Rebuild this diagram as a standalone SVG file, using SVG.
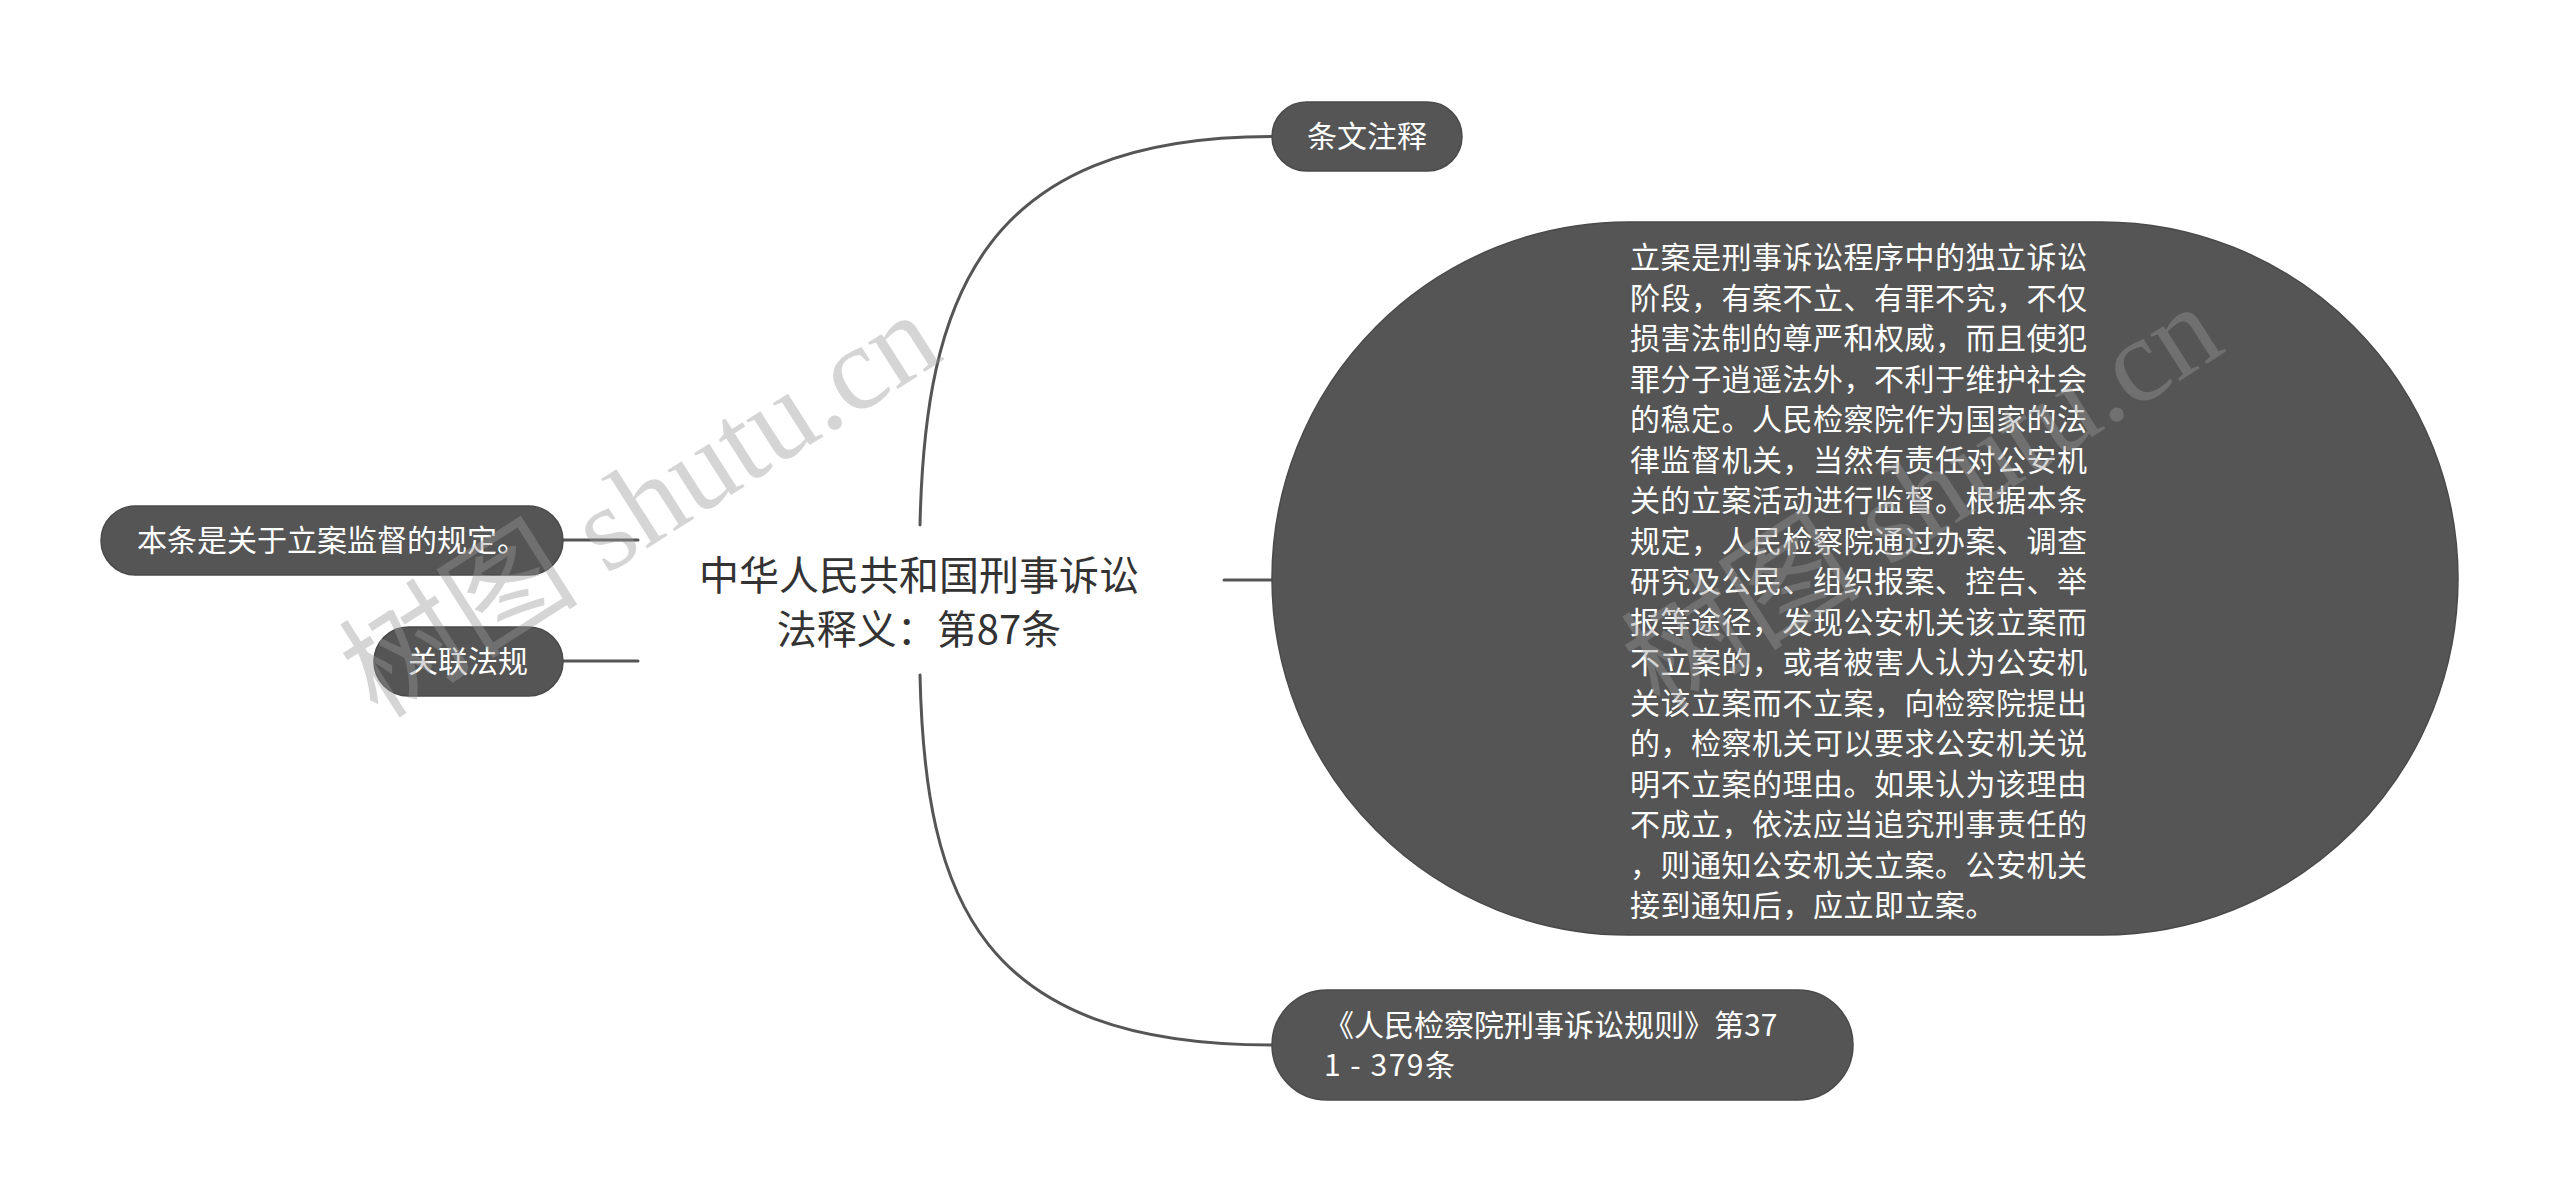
<svg xmlns="http://www.w3.org/2000/svg" width="2560" height="1201" viewBox="0 0 2560 1201">
<style>
.node{fill:#555555;stroke:#4a4a4a;stroke-width:1.5}
.nt{fill:#ffffff;font-family:"Microsoft YaHei","Noto Sans CJK SC","Noto Sans",sans-serif;font-size:30px}
.big{fill:#ffffff;font-family:"Microsoft YaHei","Noto Sans CJK SC","Noto Sans",sans-serif;font-size:30px;letter-spacing:0.5px}
.ct{fill:#333333;font-family:"Microsoft YaHei","Noto Sans CJK SC","Noto Sans",sans-serif;font-size:40px}
.edge{fill:none;stroke:#555555;stroke-width:3;stroke-linecap:round}
.wm{fill:#999999;opacity:0.4;font-family:"Liberation Serif","Noto Sans CJK SC",serif;font-size:120px}
</style>
<rect width="2560" height="1201" fill="#ffffff"/>
<g id="connectors">
<path class="edge" d="M920,525 C925,300 980,136.5 1272,136.5"/>
<path class="edge" d="M920,675 C925,900 980,1045 1272,1045"/>
<path class="edge" d="M1224,580 L1272,580"/>
<path class="edge" d="M563,540 L638,540"/>
<path class="edge" d="M563,661 L638,661"/>
</g>
<g id="center">
<text class="ct" x="919" y="590" text-anchor="middle">中华人民共和国刑事诉讼</text>
<text class="ct" x="919" y="644" text-anchor="middle">法释义：第87条</text>
</g>
<g id="n-tiaowen">
<rect class="node" x="1272" y="102" width="190" height="69" rx="34.5"/>
<text class="nt" x="1307" y="147">条文注释</text>
</g>
<g id="n-big">
<rect class="node" x="1272" y="222" width="1186" height="713" rx="356.5"/>
<text class="big"><tspan x="1630" y="268">立案是刑事诉讼程序中的独立诉讼</tspan><tspan x="1630" y="308.5">阶段，有案不立、有罪不究，不仅</tspan><tspan x="1630" y="349">损害法制的尊严和权威，而且使犯</tspan><tspan x="1630" y="389.5">罪分子逍遥法外，不利于维护社会</tspan><tspan x="1630" y="430">的稳定。人民检察院作为国家的法</tspan><tspan x="1630" y="470.5">律监督机关，当然有责任对公安机</tspan><tspan x="1630" y="511">关的立案活动进行监督。根据本条</tspan><tspan x="1630" y="551.5">规定，人民检察院通过办案、调查</tspan><tspan x="1630" y="592">研究及公民、组织报案、控告、举</tspan><tspan x="1630" y="632.5">报等途径，发现公安机关该立案而</tspan><tspan x="1630" y="673">不立案的，或者被害人认为公安机</tspan><tspan x="1630" y="713.5">关该立案而不立案，向检察院提出</tspan><tspan x="1630" y="754">的，检察机关可以要求公安机关说</tspan><tspan x="1630" y="794.5">明不立案的理由。如果认为该理由</tspan><tspan x="1630" y="835">不成立，依法应当追究刑事责任的</tspan><tspan x="1630" y="875.5">，则通知公安机关立案。公安机关</tspan><tspan x="1630" y="916">接到通知后，应立即立案。</tspan></text>
</g>
<g id="n-rules">
<rect class="node" x="1272" y="990" width="581" height="110" rx="55"/>
<text class="nt" x="1324" y="1036">《人民检察院刑事诉讼规则》第37</text>
<text class="nt" x="1324" y="1076" letter-spacing="1.5">1 - 379条</text>
</g>
<g id="n-benti">
<rect class="node" x="101" y="506" width="462" height="69" rx="34.5"/>
<text class="nt" x="137" y="551">本条是关于立案监督的规定。</text>
</g>
<g id="n-guanlian">
<rect class="node" x="374" y="627" width="189" height="69" rx="34.5"/>
<text class="nt" x="408" y="672">关联法规</text>
</g>
<g id="watermark">
<text class="wm" transform="translate(378,720) rotate(-32.5)">树图 shutu.cn</text>
<text class="wm" transform="translate(1660,712) rotate(-32.5)">树图 shutu.cn</text>
</g>
</svg>
